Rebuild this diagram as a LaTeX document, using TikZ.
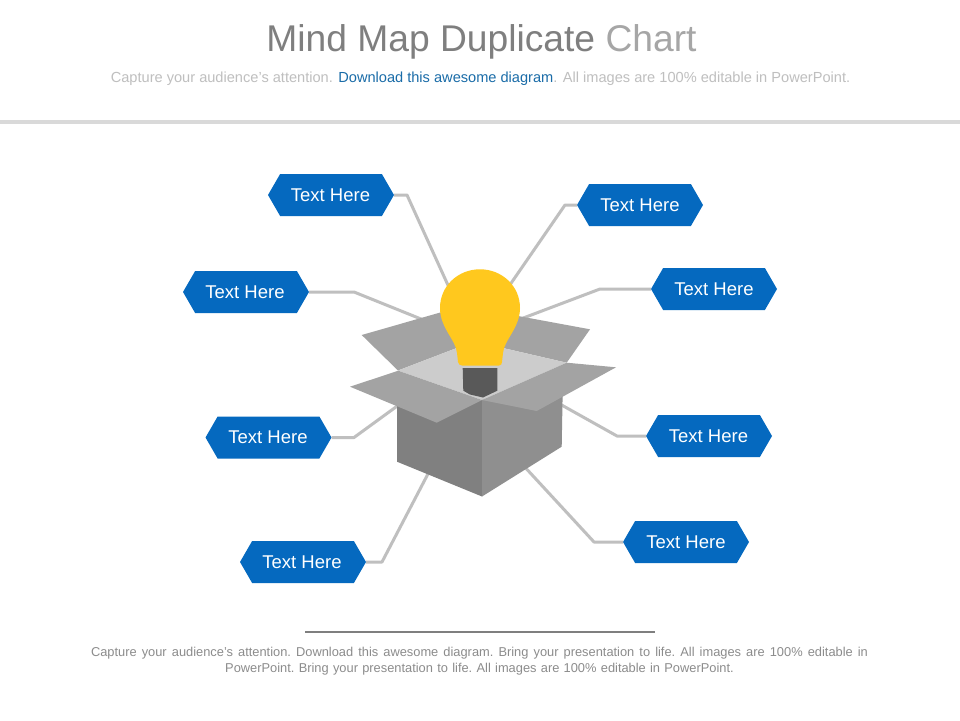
\documentclass[tikz,border=0pt]{standalone}
\usepackage{fontspec}
\setmainfont{Liberation Sans}
\usetikzlibrary{shapes.symbols}
\definecolor{tagblue}{HTML}{0569BF}
\definecolor{linkgrey}{HTML}{BFBFBF}
\definecolor{titlegrey}{HTML}{7F7F7F}
\definecolor{chartgrey}{HTML}{A6A6A6}
\definecolor{subgrey}{HTML}{BFBFBF}
\definecolor{subblue}{HTML}{1A6CA8}
\definecolor{footgrey}{HTML}{8C8C8C}
\tikzset{
  tagbox/.style={signal, signal to=east and west, signal pointer angle=120, fill=tagblue, text=white,
    minimum width=126pt, minimum height=42pt, inner sep=0pt, outer sep=0pt, font=\fontsize{18.5}{20}\selectfont},
  link/.style={draw=linkgrey, line width=3pt, line join=round},
  plain/.style={inner sep=0pt, outer sep=0pt}
}
\begin{document}
\begin{tikzpicture}[x=1pt,y=-1pt]
\useasboundingbox (0,0) rectangle (960,720);
\fill[white] (0,0) rectangle (960,720);
% header
\node[plain,font=\fontsize{37.2}{40}\selectfont,text=titlegrey] (title) at (481.5,42) {Mind Map Duplicate \textcolor{chartgrey}{Chart}};
\node[plain,font=\fontsize{14.6}{16}\selectfont,text=subgrey] (subtitle) at (480.5,79) {Capture your audience’s attention. \textcolor{subblue}{Download this awesome diagram}. All images are 100\% editable in PowerPoint.};
\coordinate (ruleL) at (0,122); \coordinate (ruleR) at (960,122);
\draw[line width=4pt,color=black!15] (ruleL) -- (ruleR);
% tags
\node[tagbox] (t1) at (331,195) {\hspace*{-1pt}Text Here};
\node[tagbox] (t2) at (246,292) {\hspace*{-2pt}Text Here};
\node[tagbox] (t3) at (268.5,437.5) {\hspace*{-1pt}Text Here};
\node[tagbox] (t4) at (303,562) {\hspace*{-2pt}Text Here};
\node[tagbox] (t5) at (640,205) {Text Here};
\node[tagbox] (t6) at (714,289) {Text Here};
\node[tagbox] (t7) at (709,436) {\hspace*{-1pt}Text Here};
\node[tagbox] (t8) at (686,542) {Text Here};
% connector waypoints
\coordinate (e1) at (407,195); \coordinate (h1) at (452,294);
\coordinate (e2) at (354,292); \coordinate (h2) at (426,321);
\coordinate (e3) at (354,437.5); \coordinate (h3) at (400,404);
\coordinate (e4) at (382,562); \coordinate (h4) at (430,470);
\coordinate (e5) at (565,205); \coordinate (h5) at (505,292);
\coordinate (e6) at (600,289); \coordinate (h6) at (518,320);
\coordinate (e7) at (617,436); \coordinate (h7) at (558,403);
\coordinate (e8) at (594,542); \coordinate (h8) at (522,464);
\draw[link] (t1.east) -- (e1) -- (h1);
\draw[link] (t2.east) -- (e2) -- (h2);
\draw[link] (t3.east) -- (e3) -- (h3);
\draw[link] (t4.east) -- (e4) -- (h4);
\draw[link] (t5.west) -- (e5) -- (h5);
\draw[link] (t6.west) -- (e6) -- (h6);
\draw[link] (t7.west) -- (e7) -- (h7);
\draw[link] (t8.west) -- (e8) -- (h8);
% box
\fill[color=black!36] (361.7,335) -- (442,312) -- (480,330) -- (456.7,348) -- (398,370.5) -- cycle;
\fill[color=black!36] (590,329.3) -- (518,316) -- (480,330) -- (503,348) -- (566.7,362.7) -- cycle;
\fill[color=black!20] (398,370.5) -- (456.7,348) -- (503,348) -- (566.7,362.7) -- (482,400) -- cycle;
\fill[color=black!50] (397,400) -- (482,400) -- (482,496.5) -- (397,461.7) -- cycle;
\fill[color=black!44] (482,400) -- (562.7,390) -- (561.7,446.7) -- (482,496.5) -- cycle;
\fill[color=black!36] (398.3,370.7) -- (350,386.7) -- (436.7,422.7) -- (482,400) -- cycle;
\fill[color=black!36] (566.7,362.7) -- (616,367.3) -- (536.7,411) -- (482,400) -- cycle;
% bulb
\fill[color=black!65] (462.7,368) -- (497.3,368) -- (497.3,390.7) -- (483,397.5) -- (470,394.5) -- (463.3,390.7) -- cycle;
\fill[color={rgb,255:red,255;green,200;blue,30}] (462,365.5) -- (499,365.5)
  .. controls (501,365.5) and (502,364) .. (502,362) -- (503,353)
  .. controls (504,340) and (520,328) .. (520,308)
  .. controls (520,286) and (502,269.3) .. (480,269.3) .. controls (458,269.3) and (440,286) .. (440,308)
  .. controls (440,328) and (456,340) .. (457,353) -- (458,362)
  .. controls (458,364) and (460,365.5) .. (462,365.5) -- cycle;
% footer
\coordinate (footL) at (305,632); \coordinate (footR) at (655,632);
\draw[line width=2pt,color=titlegrey] (footL) -- (footR);
\node[plain,font=\fontsize{12.85}{16.5}\selectfont,text=footgrey,text width=777pt,align=center] (footer) at (479.5,661)
 {\frenchspacing\hbox to 777pt{\spaceskip=0pt\xspaceskip=0pt Capture your audience’s attention. Download this awesome diagram. Bring your presentation to life. All images are 100\% editable in}\\
  PowerPoint. Bring your presentation to life. All images are 100\% editable in PowerPoint.};
\end{tikzpicture}
\end{document}
